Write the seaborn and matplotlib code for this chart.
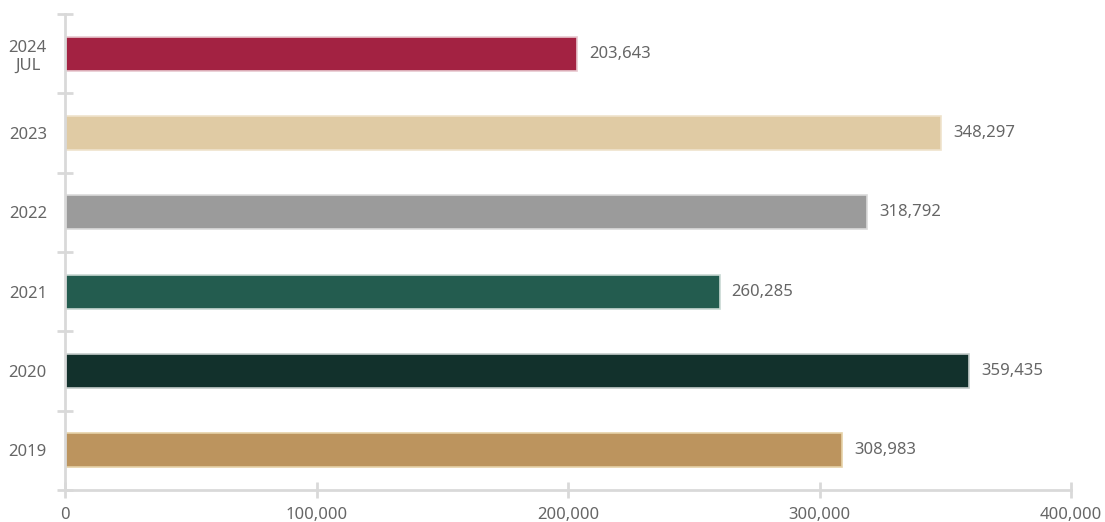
import matplotlib
matplotlib.use("Agg")
import matplotlib.pyplot as plt
import matplotlib.ticker as mticker
import seaborn as sns

# ==================================
# DATA
# ==================================
YEARS = ["2024\nJUL", "2023", "2022", "2021", "2020", "2019"]
VALUES = [203643, 348297, 318792, 260285, 359435, 308983]
COLORS = ["#A32242", "#E0CBA4", "#9B9B9B", "#235C4F", "#12312C", "#BC945E"]
EDGES = ["#E8C8CF", "#EFE3CC", "#DADADA", "#C8D8D3", "#C5CDCB", "#E6D2A8"]
X_TICKS = [0, 100000, 200000, 300000, 400000]

GRID = "#D9D9D9"
TEXT = "#666666"

sns.set_style("white")
plt.rcParams["font.family"] = ["Noto Sans", "DejaVu Sans"]

fig = plt.figure(figsize=(11.05, 5.22), dpi=100)
ax = fig.add_axes([65 / 1105, 32 / 522, 1006 / 1105, 476 / 522])

sns.barplot(
    x=VALUES,
    y=YEARS,
    hue=YEARS,
    palette=COLORS,
    saturation=1,
    legend=False,
    width=0.43,
    orient="h",
    ax=ax
)

for patch, edge in zip(ax.patches, EDGES):
    patch.set_edgecolor(edge)
    patch.set_linewidth(1.2)

# value labels
for i, v in enumerate(VALUES):
    ax.text(v + 4800, i, f"{v:,}", va="center", ha="left",
            fontsize=12, color=TEXT)

ax.set_xlim(0, 400000)
ax.set_ylim(5.5, -0.5)
ax.set_xticks(X_TICKS)
ax.xaxis.set_major_formatter(mticker.FuncFormatter(lambda v, p: f"{int(v):,}"))

# category boundary ticks on y axis
ax.set_yticks([i - 0.5 for i in range(len(YEARS) + 1)], minor=True)
ax.tick_params(axis="y", which="major", left=True, length=0, pad=13,
               labelsize=12, labelcolor=TEXT)
ax.tick_params(axis="y", which="minor", left=True, length=12, width=2,
               direction="inout", color=GRID)
ax.tick_params(axis="x", which="major", bottom=True, length=12, width=2,
               direction="inout", color=GRID, pad=6,
               labelsize=12, labelcolor=TEXT)

for lbl in ax.get_yticklabels():
    lbl.set_multialignment("center")

for side in ["top", "right"]:
    ax.spines[side].set_visible(False)
for side in ["left", "bottom"]:
    ax.spines[side].set_color(GRID)
    ax.spines[side].set_linewidth(2)

ax.set_xlabel("")
ax.set_ylabel("")

plt.savefig("out.png", dpi=100)
